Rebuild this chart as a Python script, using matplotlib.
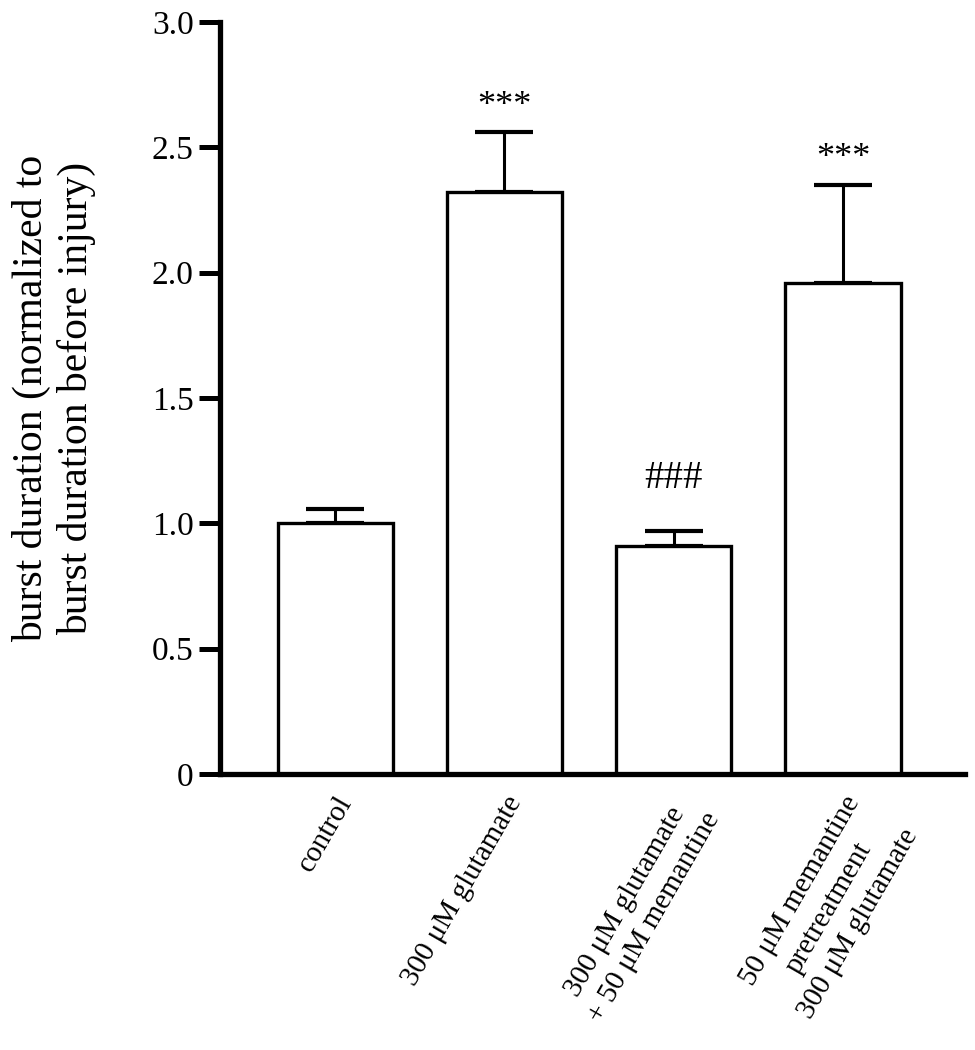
import numpy as np
from matplotlib import pyplot as plt

plt.rcParams['font.family'] = ['Liberation Serif', 'DejaVu Serif']

# data
groups = ['control', '300 \u03bcM glutamate',
          '300 \u03bcM glutamate\n+ 50 \u03bcM memantine',
          '50 \u03bcM memantine\npretreatment\n300 \u03bcM glutamate']
means = [1.0, 2.32, 0.91, 1.96]
sems = [0.055, 0.24, 0.06, 0.39]
marks = ['', '***', '###', '***']

fig = plt.figure(figsize=(9.75, 10.5), dpi=100)
ax = fig.add_axes([0.2256, 0.263, 0.764, 0.716])

x = np.arange(len(groups))
ax.bar(x, means, width=0.68, color='white', edgecolor='black', linewidth=2.4, zorder=2)
ax.errorbar(x, means, yerr=[np.zeros(len(sems)), sems], fmt='none', ecolor='black',
            elinewidth=2.2, capsize=21, capthick=3.0, zorder=1)

# significance marks above the error bars
for xi, m, s, t in zip(x, means, sems, marks):
    if t == '***':
        ax.text(xi, m + s + 0.105, t, ha='center', va='center', fontsize=26)
    elif t:
        ax.text(xi, m + s + 0.21, t, ha='center', va='center', fontsize=28)

ax.set_xlim(-0.68, 3.72)
ax.set_ylim(0, 3.0)
ax.set_yticks([0, 0.5, 1.0, 1.5, 2.0, 2.5, 3.0])
ax.set_yticklabels(['0', '0.5', '1.0', '1.5', '2.0', '2.5', '3.0'])
ax.set_xticks(x)
ax.set_xticklabels(groups, rotation=60, ha='right', va='top', rotation_mode='anchor',
                   multialignment='center', linespacing=1.35)

for side in ['top', 'right']:
    ax.spines[side].set_visible(False)
ax.spines['left'].set_linewidth(3.8)
ax.spines['bottom'].set_linewidth(3.8)
ax.tick_params(axis='y', length=15, width=3.6, pad=4, labelsize=24)
ax.tick_params(axis='x', length=0, pad=13, labelsize=21)

ax.set_ylabel('burst duration (normalized to\nburst duration before injury)',
              fontsize=30, labelpad=40)

fig.savefig('out.png', dpi=100)
